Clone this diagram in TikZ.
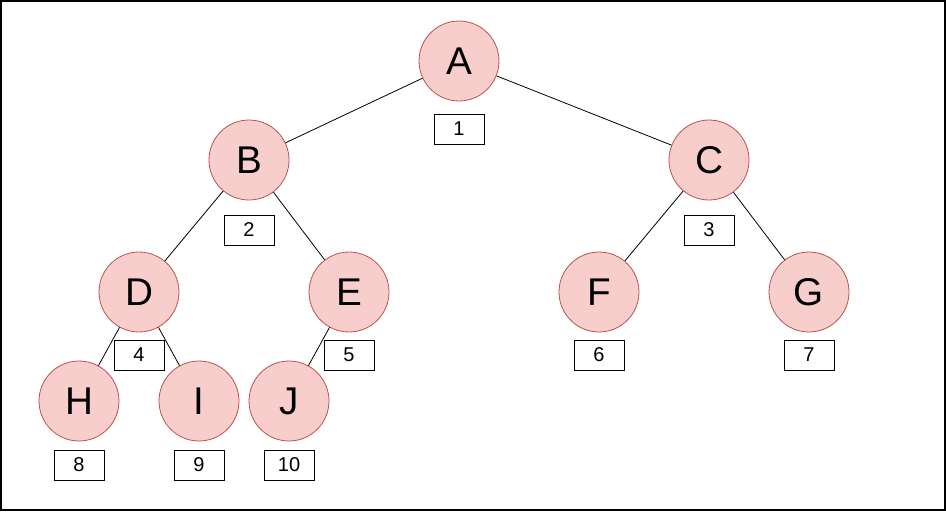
\documentclass[tikz,border=0pt]{standalone}
\usepackage{fontspec}
\setmainfont{Liberation Sans}
\definecolor{nodefill}{HTML}{F8CECC}
\definecolor{nodeline}{HTML}{B85450}
\begin{document}
\begin{tikzpicture}[x=0.75pt,y=-0.75pt,
  vert/.style={circle,draw=nodeline,fill=nodefill,line width=0.6pt,minimum size=60pt,inner sep=0pt,font=\fontsize{29}{30}\selectfont},
  idx/.style={draw=black,fill=white,line width=0.75pt,minimum width=37.5pt,minimum height=22.5pt,inner sep=0pt,font=\fontsize{15}{16}\selectfont},
  edge/.style={draw=black,line width=0.6pt}]
\useasboundingbox (0,0) rectangle (946,511);
\draw[line width=1.2pt] (0.8,0.8) rectangle (945.2,510.2);
\node[vert] (A) at (459,61) {A};
\node[vert] (B) at (249,160) {B};
\node[vert] (C) at (709,160) {C};
\node[vert] (D) at (139,292) {D};
\node[vert] (E) at (349,292) {E};
\node[vert] (F) at (599,292) {F};
\node[vert] (G) at (809,292) {G};
\node[vert] (H) at (79,401) {H};
\node[vert] (I) at (199,401) {I};
\node[vert] (J) at (289,401) {J};
\node[idx] (n1) at (459,129) {1};
\node[idx] (n2) at (249,230) {2};
\node[idx] (n3) at (709,230) {3};
\node[idx] (n4) at (139,355) {4};
\node[idx] (n5) at (349,355) {5};
\node[idx] (n6) at (599,355) {6};
\node[idx] (n7) at (809,355) {7};
\node[idx] (n8) at (79,465) {8};
\node[idx] (n9) at (199,465) {9};
\node[idx] (n10) at (289,465) {10};
\draw[edge] (A) -- (B);
\draw[edge] (A) -- (C);
\draw[edge] (B) -- (D);
\draw[edge] (B) -- (E);
\draw[edge] (C) -- (F);
\draw[edge] (C) -- (G);
\draw[edge] (D) -- (H);
\draw[edge] (D) -- (I);
\draw[edge] (E) -- (J);
\end{tikzpicture}
\end{document}
